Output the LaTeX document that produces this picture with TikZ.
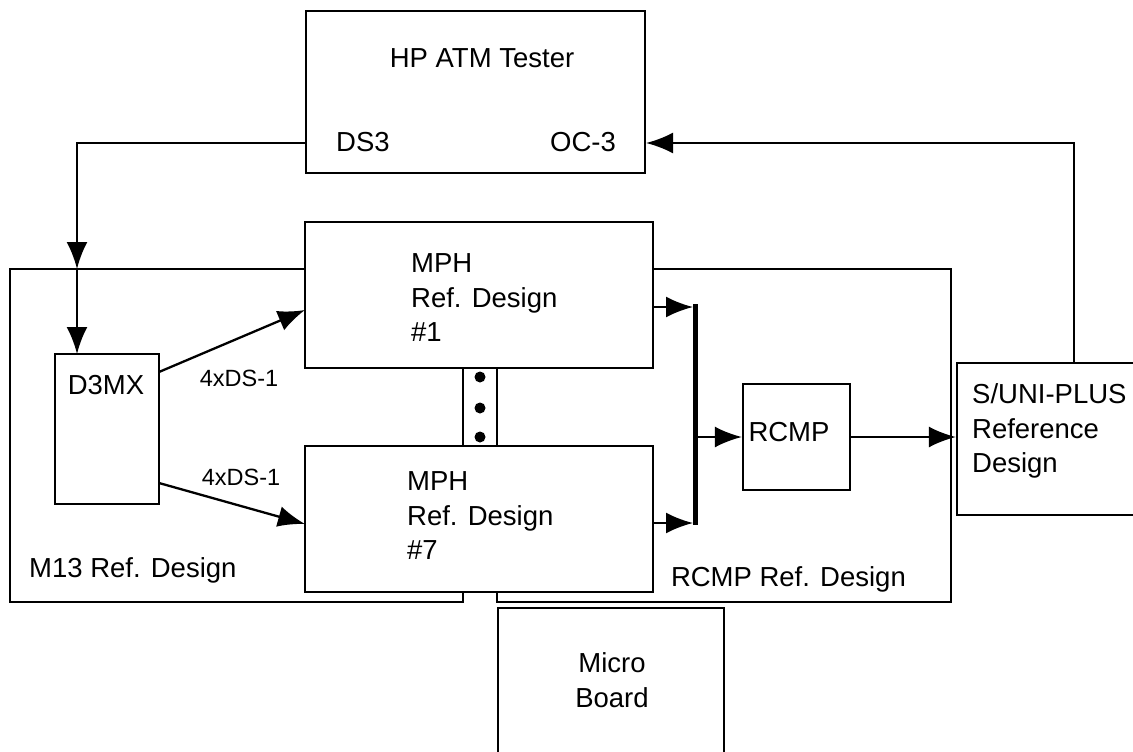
\documentclass[tikz,border=0pt]{standalone}
\usepackage{fontspec}
\setmainfont{Liberation Sans}
\usetikzlibrary{arrows.meta,calc}

\begin{document}
\begin{tikzpicture}[x=1pt,y=-1pt,line width=2.3pt,
		font=\fontsize{27.5}{34.5}\selectfont,
		blk/.style={draw,rectangle,inner sep=0pt},
		txt/.style={inner sep=0pt,align=left},
		small/.style={inner sep=0pt,font=\fontsize{23.5}{28}\selectfont},
		arr/.style={-{Latex[length=27pt,width=21pt]}}]
	\useasboundingbox (0,0) rectangle (1133,752);
	\node[blk,minimum width=339pt,minimum height=162pt] (hp) at (475.5,92) {};
	\node[blk,minimum width=348pt,minimum height=146pt] (mph1) at (479,295) {};
	\node[blk,minimum width=348pt,minimum height=146pt] (mph7) at (479,519) {};
	\node[blk,minimum width=104pt,minimum height=150pt] (d3mx) at (107,429) {};
	\node[blk,minimum width=107pt,minimum height=106pt] (rcmp) at (796.5,437) {};
	\node[blk,minimum width=234pt,minimum height=152pt] (suni) at (1074,439) {};
	\node[blk,minimum width=226pt,minimum height=170pt] (micro) at (611,693) {};
	\draw (305,269) -- (10,269) -- (10,602) -- (463,602) -- (463,592);
	\draw (653,269) -- (951,269) -- (951,602) -- (497,602) -- (497,592);
	\draw (463,368) -- (463,446) (497,368) -- (497,446);
	\foreach \y in {377,408,437}
		\fill (480,\y) circle (5.5pt);
	\node[txt] (hplbl) at (482,58) {HP ATM Tester};
	\node[txt,anchor=west] (ds3lbl) at (335,142) {DS3};
	\node[txt,anchor=east] (oc3lbl) at (617,142) {OC-3};
	\node[txt,anchor=west] (mph1lbl) at (410,298) {MPH\\Ref. Design\\\#1};
	\node[txt,anchor=west] (mph7lbl) at (406,516) {MPH\\Ref. Design\\\#7};
	\node[txt] (d3mxlbl) at (106,385) {D3MX};
	\node[txt] (rcmplbl) at (789,432) {RCMP};
	\node[txt,anchor=west] (sunilbl) at (971,431) {S/UNI-PLUS\\Reference\\Design};
	\node[txt,align=center] (microlbl) at (612,680) {Micro\\Board};
	\node[txt,anchor=west] (m13lbl) at (28,570) {M13 Ref. Design};
	\node[txt,anchor=east] (rcmpref) at (907,579) {RCMP Ref. Design};
	\coordinate (ds3) at (306,143);
	\coordinate (m13in) at (77,269);
	\coordinate (d3in) at (77,354);
	\coordinate (oc3) at (646,143);
	\coordinate (d3o1) at (159,372);
	\coordinate (d3o2) at (159,483);
	\coordinate (mph1in) at (305,310);
	\coordinate (mph7in) at (305,524);
	\coordinate (mph1out) at (653,307);
	\coordinate (mph7out) at (653,523);
	\coordinate (bustop) at (695,304);
	\coordinate (busbot) at (695,525);
	\draw[arr] (ds3) -| (m13in);
	\draw[arr] (m13in) -- (d3in);
	\draw[arr] (suni.north) |- (oc3);
	\draw[arr] (d3o1) -- (mph1in);
	\draw[arr] (d3o2) -- (mph7in);
	\node[small] (ds1a) at (239,378) {4xDS-1};
	\node[small] (ds1b) at (241,477) {4xDS-1};
	\draw[line width=5pt] (bustop) -- (busbot);
	\draw[arr,shorten >=2pt] (mph1out) -- (mph1out -| bustop);
	\draw[arr,shorten >=2pt] (mph7out) -- (mph7out -| bustop);
	\draw[arr] (rcmp.west -| bustop) -- (rcmp.west);
	\draw[arr] (rcmp.east) -- (rcmp.east -| suni.west);
\end{tikzpicture}
\end{document}
